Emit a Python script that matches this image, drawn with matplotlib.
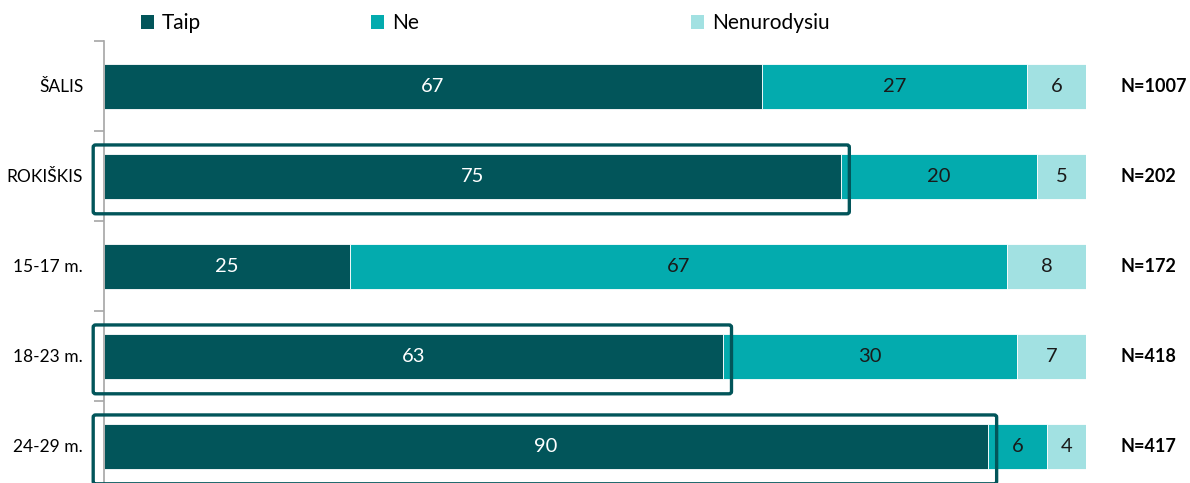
import matplotlib
matplotlib.use("Agg")
import matplotlib.pyplot as plt
from matplotlib.patches import FancyBboxPatch
from matplotlib.patches import Patch
import matplotlib.transforms as mtransforms

categories = ["ŠALIS", "ROKIŠKIS", "15-17 m.", "18-23 m.", "24-29 m."]
taip = [67, 75, 25, 63, 90]
ne = [27, 20, 67, 30, 6]
nenurodysiu = [6, 5, 8, 7, 4]
n_labels = ["N=1007", "N=202", "N=172", "N=418", "N=417"]
highlighted = ["ROKIŠKIS", "18-23 m.", "24-29 m."]

series_names = ["Taip", "Ne", "Nenurodysiu"]
colors = ["#02555A", "#03ABAE", "#A2E1E2"]
text_colors = ["white", "#1a1a1a", "#1a1a1a"]

plt.rcParams["font.family"] = ["Lato", "DejaVu Sans"]

W, H = 1190, 483
fig = plt.figure(figsize=(W / 100, H / 100), dpi=100)
# axes: left edge at 104 px, right at 1086 px, top at 41 px, bottom below figure
ax = fig.add_axes([104 / W, -8 / H, 982 / W, 450 / H])

ypos = list(range(len(categories)))
series = [taip, ne, nenurodysiu]
left = [0] * len(categories)
for vals, color, tcol in zip(series, colors, text_colors):
    ax.barh(ypos, vals, left=left, height=0.5, color=color,
            edgecolor="white", linewidth=0.6)
    for i, v in enumerate(vals):
        ax.text(left[i] + v / 2, i, str(v), ha="center", va="center",
                color=tcol, fontsize=14.5)
    left = [l + v for l, v in zip(left, vals)]

ax.set_xlim(0, 100)
ax.set_ylim(len(categories) - 0.5, -0.5)
ax.set_yticks(ypos)
ax.set_yticklabels(categories, fontsize=12.5)
ax.set_yticks([i - 0.5 for i in range(len(categories) + 1)], minor=True)
ax.tick_params(axis="y", which="major", length=0, pad=15)
ax.tick_params(axis="y", which="minor", length=7, color="#A6A6A6", width=1.2)
ax.set_xticks([])
for s in ["top", "right", "bottom"]:
    ax.spines[s].set_visible(False)
ax.spines["left"].set_color("#A6A6A6")
ax.spines["left"].set_linewidth(1.2)

# N labels on the right
trans = mtransforms.blended_transform_factory(fig.transFigure, ax.transData)
for i, lab in enumerate(n_labels):
    ax.text(1121 / W, i, lab, transform=trans, ha="left", va="center",
            fontsize=13, fontweight="bold", color="black")

# highlight boxes around the Taip bars
for i, cat in enumerate(categories):
    if cat in highlighted:
        box = FancyBboxPatch((-1.1, i - 0.345), taip[i] + 2.0, 0.765,
                             boxstyle="round,pad=0,rounding_size=0.25",
                             fill=False, edgecolor="#02555A", linewidth=2.4,
                             clip_on=False, zorder=5,
                             mutation_aspect=0.1)
        ax.add_patch(box)

# legend entries spaced like the original
legend_x = [148, 378, 698]
for name, color, x in zip(series_names, colors, legend_x):
    fig.legend(handles=[Patch(facecolor=color, label=name)],
               loc="center left", bbox_to_anchor=(x / W - 0.013, 1 - 23 / H),
               frameon=False, fontsize=15, handlelength=0.65,
               handleheight=0.65, handletextpad=0.35, borderaxespad=0)

fig.savefig("out.png", dpi=100)
